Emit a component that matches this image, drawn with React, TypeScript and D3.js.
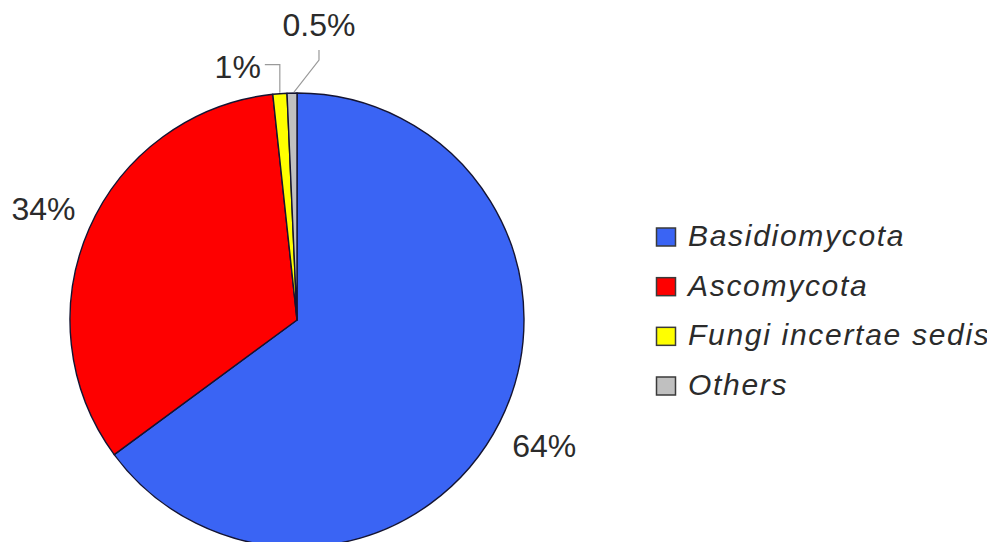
import React, { useEffect, useRef } from "react";
import * as d3 from "d3";

const categories = ["Basidiomycota", "Ascomycota", "Fungi incertae sedis", "Others"];
const values = [64.9, 33.4, 1.0, 0.7];
const labels = ["64%", "34%", "1%", "0.5%"];
const colors = ["#3a64f4", "#fe0000", "#ffff00", "#c0c0c0"];

type Slice = { name: string; value: number; label: string };

const App: React.FC = () => {
  const svgRef = useRef<SVGSVGElement>(null);

  useEffect(() => {
    const width = 995;
    const height = 550;
    const cx = 297;
    const cy = 320;
    const radius = 227;
    const font = "'Liberation Sans', Arial, Helvetica, sans-serif";

    const data: Slice[] = categories.map((c, i) => ({ name: c, value: values[i], label: labels[i] }));

    const svg = d3.select(svgRef.current).attr("width", width).attr("height", height);
    svg.selectAll("*").remove();

    const color = d3.scaleOrdinal<string, string>().domain(categories).range(colors);

    const pie = d3
      .pie<Slice>()
      .sort(null)
      .value(d => d.value);

    const arc = d3.arc<d3.PieArcDatum<Slice>>().innerRadius(0).outerRadius(radius);
    const labelArc = d3.arc<d3.PieArcDatum<Slice>>().innerRadius(277).outerRadius(277);

    const g = svg.append("g").attr("transform", `translate(${cx},${cy})`);
    const arcs = pie(data);

    g.selectAll("path.slice")
      .data(arcs)
      .enter()
      .append("path")
      .attr("class", "slice")
      .attr("d", arc)
      .attr("fill", d => color(d.data.name))
      .attr("stroke", "#141432")
      .attr("stroke-width", 1.4)
      .attr("stroke-linejoin", "round");

    // big slices: label at mid angle, no leader
    g.selectAll("text.big")
      .data(arcs.filter(d => d.data.value > 5))
      .enter()
      .append("text")
      .attr("class", "big")
      .attr("transform", d => `translate(${labelArc.centroid(d)})`)
      .attr("text-anchor", "middle")
      .attr("dy", "0.36em")
      .style("font-family", font)
      .style("font-size", "32px")
      .style("fill", "#2b2b2b")
      .text(d => d.data.label);

    // small slices with leader lines
    const small = arcs.filter(d => d.data.value <= 5);
    const pt = (d: d3.PieArcDatum<Slice>, r: number): [number, number] => {
      const a = (d.startAngle + d.endAngle) / 2;
      return [r * Math.sin(a), -r * Math.cos(a)];
    };

    small.forEach((d, i) => {
      const [x0, y0] = pt(d, radius + 1);
      let points: [number, number][];
      let tx: number;
      let ty: number;
      let anchor: string;
      if (i === 0) {
        points = [
          [x0, y0],
          [x0, y0 - 28],
          [x0 - 15, y0 - 28],
        ];
        tx = x0 - 19;
        ty = y0 - 15;
        anchor = "end";
      } else {
        points = [
          [x0 + 2, y0],
          [x0 + 27, y0 - 32],
          [x0 + 27, y0 - 42],
        ];
        tx = x0 + 27;
        ty = y0 - 56;
        anchor = "middle";
      }
      g.append("path")
        .attr("d", d3.line()(points))
        .attr("fill", "none")
        .attr("stroke", "#9a9a9a")
        .attr("stroke-width", 1.2);
      g.append("text")
        .attr("x", tx)
        .attr("y", ty)
        .attr("text-anchor", anchor)
        .style("font-family", font)
        .style("font-size", "32px")
        .style("fill", "#2b2b2b")
        .text(d.data.label);
    });

    // Legend
    const y = d3.scalePoint<string>().domain(categories).range([237, 386]);
    const legend = svg.append("g").attr("transform", "translate(656,0)");
    const items = legend
      .selectAll("g")
      .data(data)
      .enter()
      .append("g")
      .attr("transform", d => `translate(0,${y(d.name)})`);

    items
      .append("rect")
      .attr("x", 0.5)
      .attr("y", -9)
      .attr("width", 19)
      .attr("height", 18)
      .attr("fill", d => color(d.name))
      .attr("stroke", "#3a3a3a")
      .attr("stroke-width", 1.5);

    items
      .append("text")
      .attr("x", 32)
      .attr("y", 9)
      .style("font-family", font)
      .style("font-style", "italic")
      .style("font-size", "30px")
      .style("letter-spacing", "1.7px")
      .style("fill", "#2b2b2b")
      .text(d => d.name);
  }, []);

  return (
    <div style={{ margin: -8 }}>
      <svg ref={svgRef} style={{ display: "block" }}></svg>
    </div>
  );
};

export default App;
